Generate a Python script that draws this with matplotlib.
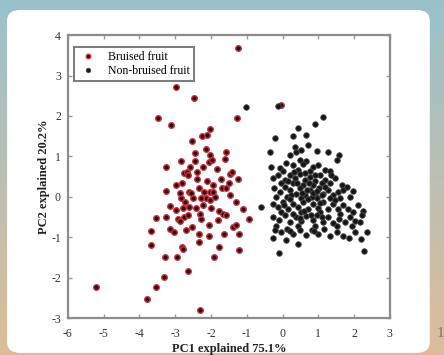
import numpy as np
import matplotlib
matplotlib.use("Agg")
import matplotlib.pyplot as plt
from matplotlib.patches import FancyBboxPatch

plt.rcParams['font.family'] = ['Liberation Serif', 'DejaVu Serif']
plt.rcParams['axes.unicode_minus'] = False

# ---------- data ----------
bruised_x = [-1.24, -2.99, -2.48, -3.48, -3.13, -1.26, -0.05, -2.03, -2.25, -2.11,
             -2.52, -3.25, -2.85, -2.46, -2.13, -2.03, -2.05, -1.97, -1.61, -1.57,
             -2.23, -2.76, -2.67, -2.63, -2.39, -2.11, -2.80, -1.48, -1.42, -1.25,
             -1.50, -3.26, -2.62, -2.56, -2.33, -2.20, -2.03, -1.94, -1.68, -1.57,
             -1.48, -2.13, -2.03, -1.89, -2.27, -3.15, -2.97, -2.78, -2.61, -2.41,
             -2.22, -2.01, -1.77, -1.66, -1.57, -1.31, -1.11, -0.93, -3.54, -3.25,
             -2.93, -2.76, -2.64, -2.27, -2.87, -3.67, -3.15, -3.03, -2.52, -2.05,
             -1.64, -1.38, -1.29, -2.33, -2.06, -3.68, -2.80, -2.77, -2.33, -1.78,
             -1.21, -3.30, -2.95, -1.93, -2.65, -3.32, -3.54, -5.22, -3.78, -2.31,
             -2.83, -2.50, -2.31, -1.80, -1.22, -2.59, -2.45, -1.83, -2.71, -2.87,
             -2.97, -2.74, -1.72, -2.40, -1.95]
bruised_y = [3.69, 2.71, 2.44, 1.94, 1.78, 1.94, 2.27, 1.69, 1.51, 1.53,
             1.39, 0.73, 0.89, 0.89, 1.19, 1.04, 0.86, 0.92, 0.93, 1.12,
             0.73, 0.59, 0.61, 0.54, 0.44, 0.39, 0.33, 0.57, 0.62, 0.43,
             0.35, 0.14, 0.12, 0.10, 0.21, 0.11, 0.11, 0.12, 0.21, 0.21,
             0.04, -0.04, -0.08, 0.00, -0.03, -0.23, -0.33, -0.28, -0.25, -0.28,
             -0.21, -0.28, -0.35, -0.42, -0.46, -0.13, -0.31, -0.54, -0.53, -0.50,
             -0.54, -0.50, -0.44, -0.54, -0.61, -0.85, -0.79, -0.88, -0.75, -0.69,
             -0.93, -0.75, -0.69, -0.92, -0.98, -1.19, -1.23, -1.28, -1.13, -1.23,
             -1.31, -1.48, -1.48, -1.50, -1.84, -1.98, -2.23, -2.23, -2.53, -2.81,
             -0.04, -0.04, -0.42, -0.58, -0.92, 0.73, 1.08, 0.69, -0.83, 0.10,
             0.29, -0.12, 0.45, 0.62, 0.30]

sound_x = [0.44, 0.30, 0.65, -0.21, 0.90, 1.12,
           0.35, -0.34, 0.39, 0.53, 0.97, 1.28, 1.59, 0.21, 0.72,
           -0.31, -0.07, 0.11, 0.30, 0.49, 0.67, 0.86, 1.00, 1.18, 1.32, 1.51, 0.02, 0.44, 0.76,
           -0.26, -0.12, 0.07, 0.21, 0.35, 0.49, 0.63, 0.76, 0.90, 1.04, 1.18, 1.32, 1.46, 1.65,
           -0.03, 0.30, 0.58, 0.86, 1.09,
           -0.24, -0.07, 0.07, 0.21, 0.37, 0.49, 0.63, 0.76, 0.90, 1.03, 1.14, 1.28, 1.42, 1.56,
           1.70, 1.79, 1.98, -0.17, 0.13, 0.53, 0.95, 1.32, 1.60, 1.88, 0.25, 0.81, 1.09,
           -0.28, -0.12, 0.02, 0.16, 0.30, 0.44, 0.58, 0.72, 0.86, 1.00, 1.14, 1.28, 1.42, 1.56,
           1.70, 1.84, 1.98, 2.12, 2.26, -0.03, 0.53, 1.04, 1.60,
           -0.26, -0.09, 0.07, 0.22, 0.37, 0.53, 0.67, 0.84, 0.97, 1.12, 1.28, 1.42, 1.59, 1.74,
           1.88, 2.02, 2.21, 2.16, -0.17, 0.44, 0.90, 1.51, 1.93,
           -0.21, -0.03, 0.13, 0.30, 0.49, 0.65, 0.81, 1.00, 1.16, 1.32, 1.51, 1.70, 1.87, 2.02,
           2.35, -0.28, 0.11, 0.42, 2.18,
           2.29, -0.10, -0.59, -1.01, -0.14,
           0.55, 0.70, 0.85, 0.60, 0.95, 0.40, 0.75, 1.05, 0.20, 0.48, 0.62, 0.92, 1.20, 0.30,
           0.80, 1.10, 0.15, 0.58, 0.05, 1.35, 0.68, 0.33, 1.48, 0.88, 0.20]
sound_y = [1.71, 1.50, 1.53, 1.46, 1.81, 1.98,
           1.23, 1.11, 1.11, 1.17, 1.13, 1.11, 1.04, 1.04, 1.29,
           0.75, 0.71, 0.83, 0.79, 0.92, 0.88, 0.75, 0.79, 0.67, 0.64, 0.92, 0.63, 0.67, 0.63,
           0.46, 0.54, 0.42, 0.54, 0.46, 0.56, 0.42, 0.50, 0.38, 0.54, 0.42, 0.33, 0.46, 0.29,
           0.33, 0.33, 0.29, 0.29, 0.33,
           0.21, 0.13, 0.25, 0.17, 0.08, 0.21, 0.04, 0.17, 0.04, 0.21, 0.08, 0.17, 0.04, 0.13,
           0.17, 0.25, 0.14, 0.00, 0.00, -0.04, -0.04, -0.04, -0.03, 0.00, 0.04, 0.00, 0.04,
           -0.17, -0.25, -0.13, -0.29, -0.17, -0.25, -0.14, -0.29, -0.17, -0.28, -0.14, -0.29, -0.17, -0.31,
           -0.19, -0.29, -0.38, -0.21, -0.36, -0.38, -0.38, -0.38, -0.42,
           -0.50, -0.58, -0.46, -0.63, -0.50, -0.61, -0.48, -0.58, -0.46, -0.63, -0.50, -0.64, -0.54, -0.63,
           -0.50, -0.61, -0.44, -0.63, -0.71, -0.71, -0.71, -0.73, -0.71,
           -0.83, -0.88, -0.79, -0.92, -0.83, -0.94, -0.81, -0.92, -0.79, -0.98, -0.86, -0.98, -1.03, -0.88,
           -0.88, -1.03, -1.06, -1.17, -1.04,
           -1.35, -1.38, -0.25, 2.23, 2.24,
           0.10, -0.05, 0.10, -0.35, 0.15, 0.35, 0.35, -0.15, -0.05, -0.52, 0.60, 0.55, 0.25, -0.42,
           -0.45, -0.50, 0.40, 0.80, -0.20, 0.55, 0.18, 0.62, -0.08, -0.85, -0.85]

x_ticks = [-6, -5, -4, -3, -2, -1, 0, 1, 2, 3]
y_ticks = [-3, -2, -1, 0, 1, 2, 3, 4]

# ---------- figure ----------
fig = plt.figure(figsize=(4.44, 3.55), dpi=100)

# photo-like backdrop behind the white card
bg = fig.add_axes([0, 0, 1, 1], zorder=-10)
grad = np.linspace(0, 1, 256)[:, None]
top = np.array([0.60, 0.76, 0.80])
bottom = np.array([0.87, 0.74, 0.60])
img = top[None, None, :] * (1 - grad[:, :, None]) + bottom[None, None, :] * grad[:, :, None]
bg.imshow(np.repeat(img, 4, axis=1), aspect='auto', extent=[0, 1, 0, 1])
bg.set_xlim(0, 1)
bg.set_ylim(0, 1)
bg.axis('off')

card = FancyBboxPatch((0.016, 0.006), 0.952, 0.966,
                      boxstyle="round,pad=0.0,rounding_size=0.03",
                      transform=fig.transFigure, facecolor='white',
                      edgecolor='none', zorder=-5)
fig.patches.append(card)
fig.text(0.993, 0.06, '1', color='#777777', fontsize=11, ha='center', va='center')

ax = fig.add_axes([0.153, 0.104, 0.725, 0.797])
ax.set_facecolor('white')

ax.plot(bruised_x, bruised_y, 'o', ms=4, mfc='#2e0a10', mec='#c8323c', mew=1.0,
        label='Bruised fruit', zorder=3)
ax.plot(sound_x, sound_y, 'o', ms=4, mfc='#151515', mec='#4a4a4a', mew=0.6,
        label='Non-bruised fruit', zorder=3)

ax.set_xlim(-6, 3)
ax.set_ylim(-3, 4)
ax.set_xticks(x_ticks)
ax.set_yticks(y_ticks)
ax.tick_params(direction='in', top=True, right=True, length=3, width=1,
               color='#999999', labelsize=8.5, labelcolor='#333333')
ax.tick_params(axis='x', pad=7)
ax.tick_params(axis='y', pad=5)
for s in ax.spines.values():
    s.set_color('#8c8c8c')
    s.set_linewidth(1.6)

ax.set_xlabel('PC1 explained 75.1%', fontsize=9, fontweight='bold', color='#222222', labelpad=2)
ax.set_ylabel('PC2 explained 20.2%', fontsize=9, fontweight='bold', color='#222222', labelpad=1)

leg = ax.legend(loc='upper left', bbox_to_anchor=(0.019, 0.958), borderaxespad=0,
                fontsize=8.5, fancybox=False, framealpha=1, edgecolor='#7a7a7a',
                borderpad=0.35, handletextpad=0.9, labelspacing=0.15,
                handlelength=1.6, markerscale=0.8)
leg.get_frame().set_linewidth(1.4)

plt.savefig('out.png', dpi=100)
